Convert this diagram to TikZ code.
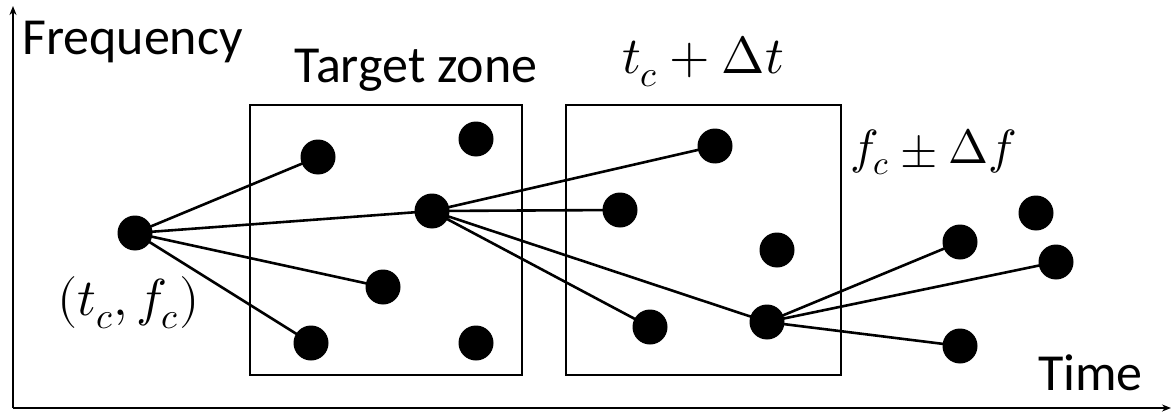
\documentclass[tikz,border=0pt]{standalone}
\usepackage{fontspec}
\usepackage{unicode-math}
\setmainfont{Carlito}
\setmathfont{Latin Modern Math}
\usetikzlibrary{arrows.meta}
\begin{document}
\begin{tikzpicture}[x=1pt,y=-1pt,
  dot/.style={circle,fill=black,inner sep=0pt,minimum size=35pt},
  edge/.style={line width=2.6pt},
  zone/.style={draw,line width=2.2pt},
  axis/.style={line width=2.6pt,-{Stealth[length=9pt,width=7pt]}},
  lab/.style={font=\fontsize{52}{60}\selectfont,inner sep=0pt}]
\useasboundingbox (0,0) rectangle (1173,412);
\draw[zone] (250,105) rectangle (522,375);
\draw[zone] (566,105) rectangle (841,375);
\coordinate (o) at (13,408);
\coordinate (ytop) at (13,6);
\coordinate (xend) at (1171,408);
\draw[axis] (o) -- (ytop);
\draw[axis] (o) -- (xend);
\node[dot] (A) at (135,233) {};
\node[dot] (B) at (318,157) {};
\node[dot] (C) at (476,139) {};
\node[dot] (D) at (432,211) {};
\node[dot] (E) at (383,287) {};
\node[dot] (F) at (311,343) {};
\node[dot] (G) at (476,343) {};
\node[dot] (H) at (715,146) {};
\node[dot] (I) at (620,210) {};
\node[dot] (J) at (777,250) {};
\node[dot] (K) at (650,327) {};
\node[dot] (L) at (767,322) {};
\node[dot] (M) at (960,242) {};
\node[dot] (N) at (1036,213) {};
\node[dot] (O) at (1056,262) {};
\node[dot] (P) at (960,346) {};
\draw[edge] (A.center) -- (B.center) (A.center) -- (D.center) (A.center) -- (E.center) (A.center) -- (F.center);
\draw[edge] (D.center) -- (H.center) (D.center) -- (I.center) (D.center) -- (K.center) (D.center) -- (L.center);
\draw[edge] (L.center) -- (M.center) (L.center) -- (O.center) (L.center) -- (P.center);
\node[lab,anchor=west] (freq) at (22,42) {Frequency};
\node[lab] (tz) at (416,70) {Target zone};
\node[lab] (tdt) at (703,62) {$t_c+\Delta t$};
\node[lab,anchor=west,font=\fontsize{48}{56}\selectfont] (fdf) at (850,152) {$f_c\pm\Delta f$};
\node[lab,anchor=west] (tcfc) at (57,303) {$(t_c,f_c)$};
\node[lab,anchor=west] (time) at (1038,373) {Time};
\end{tikzpicture}
\end{document}
